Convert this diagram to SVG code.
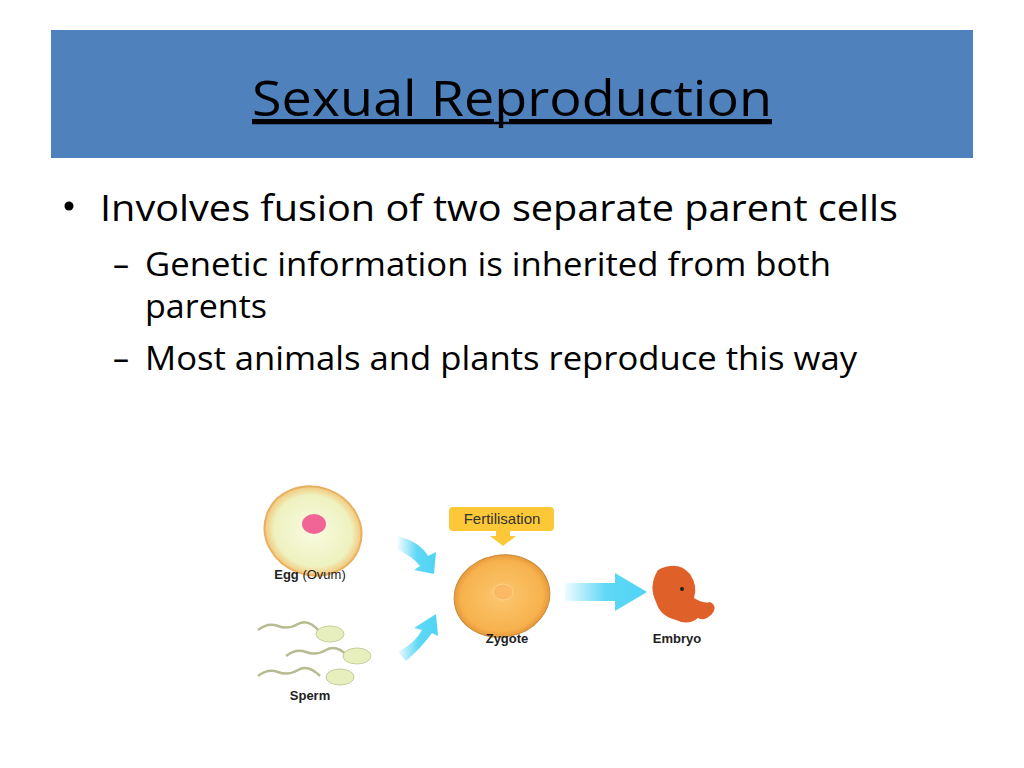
<svg xmlns="http://www.w3.org/2000/svg" width="1024" height="768" viewBox="0 0 1024 768">
<style>
.t{font-family:"Open Sans","Liberation Sans",sans-serif;fill:#000}
.l{font-family:"Liberation Sans",Arial,sans-serif;font-size:13px;fill:#222;text-anchor:middle}
</style>
<defs>
<linearGradient id="ga" x1="0" x2="1"><stop offset="0" stop-color="#5fd8f5" stop-opacity="0.1"/><stop offset="0.5" stop-color="#5fd8f5"/><stop offset="1" stop-color="#4fd3f5"/></linearGradient>
<radialGradient id="egg"><stop offset="0" stop-color="#f8fbe0"/><stop offset="0.8" stop-color="#eef2c0"/><stop offset="1" stop-color="#f3c77a"/></radialGradient>
<radialGradient id="zyg"><stop offset="0" stop-color="#fbc76f"/><stop offset="0.85" stop-color="#f7b24e"/><stop offset="1" stop-color="#e89a3a"/></radialGradient>
</defs>
<rect width="1024" height="768" fill="#fff"/>
<rect x="51" y="30" width="922" height="128" fill="#4F81BD"/>
<text class="t" x="512" y="116" font-size="50" text-anchor="middle" textLength="520" lengthAdjust="spacingAndGlyphs" text-decoration="underline">Sexual Reproduction</text>
<line x1="252" y1="123" x2="772" y2="123" stroke="#000" stroke-width="2.5"/>
<circle cx="69" cy="206" r="4.5" fill="#000"/>
<text class="t" x="100" y="221" font-size="36" textLength="798" lengthAdjust="spacingAndGlyphs">Involves fusion of two separate parent cells</text>
<text class="t" x="113" y="276" font-size="32">–</text>
<text class="t" x="145" y="276" font-size="32" textLength="686" lengthAdjust="spacingAndGlyphs">Genetic information is inherited from both</text>
<text class="t" x="145" y="318" font-size="32" textLength="122" lengthAdjust="spacingAndGlyphs">parents</text>
<text class="t" x="113" y="370" font-size="32">–</text>
<text class="t" x="145" y="370" font-size="32" textLength="712" lengthAdjust="spacingAndGlyphs">Most animals and plants reproduce this way</text>
<g id="egg-node">
<ellipse cx="313" cy="531" rx="49" ry="44" transform="rotate(20 313 531)" fill="url(#egg)" stroke="#e8b060" stroke-width="2"/>
<ellipse cx="314" cy="524" rx="12" ry="10" fill="#f06595"/>
<text class="l" x="310" y="579"><tspan font-weight="bold">Egg</tspan> (Ovum)</text>
</g>
<g id="sperm-node" fill="none" stroke="#b8bb90" stroke-width="2.5">
<path d="M258 630 q10 -8 20 -4 t20 -2 t22 8"/>
<path d="M286 656 q10 -8 20 -4 t20 -2 t22 6"/>
<path d="M258 676 q10 -8 20 -4 t20 -2 t22 6"/>
<ellipse cx="330" cy="634" rx="14" ry="8" fill="#e8efbf" stroke="#c9cc9a" stroke-width="1"/>
<ellipse cx="357" cy="656" rx="14" ry="8" fill="#e8efbf" stroke="#c9cc9a" stroke-width="1"/>
<ellipse cx="340" cy="677" rx="14" ry="8" fill="#e8efbf" stroke="#c9cc9a" stroke-width="1"/>
<text class="l" x="310" y="700" font-weight="bold" stroke="none">Sperm</text>
</g>
<g id="connectors" fill="url(#ga)">
<path d="M398 536 q22 6 30 20 l8 -4 l-2 22 l-20 -4 l6 -4 q-8 -10 -22 -16 z"/>
<path d="M398 652 q18 -10 24 -22 l-8 -2 l22 -14 l2 22 l-6 -3 q-10 14 -26 28 z"/>
<path d="M565 583 h50 v-10 l32 19 l-32 19 v-10 h-50 z"/>
</g>
<g id="fert-node">
<rect x="449" y="507" width="105" height="24" rx="4" fill="#fcc838"/>
<path d="M496 530 h14 v6 h6 l-13 10 l-13 -10 h6 z" fill="#fcc838"/>
<text x="502" y="524" font-family="Liberation Sans,Arial,sans-serif" font-size="15" text-anchor="middle" fill="#333">Fertilisation</text>
</g>
<g id="zygote-node">
<ellipse cx="502" cy="596" rx="48" ry="41" transform="rotate(-10 502 596)" fill="url(#zyg)" stroke="#c98a3a" stroke-width="1"/>
<ellipse cx="503" cy="592" rx="10" ry="8" fill="#fbb964" stroke="#fdd28c"/>
<text class="l" x="507" y="643" font-weight="bold">Zygote</text>
</g>
<g id="embryo-node">
<path d="M658 570 q20 -10 32 4 q8 12 4 24 q10 6 16 4 q8 4 2 12 q-8 8 -14 4 q-10 8 -22 2 q-16 -4 -20 -18 q-8 -16 2 -32 z" fill="#e0602a"/>
<circle cx="682" cy="589" r="2" fill="#222"/>
<text class="l" x="677" y="643" font-weight="bold">Embryo</text>
</g>
</svg>
